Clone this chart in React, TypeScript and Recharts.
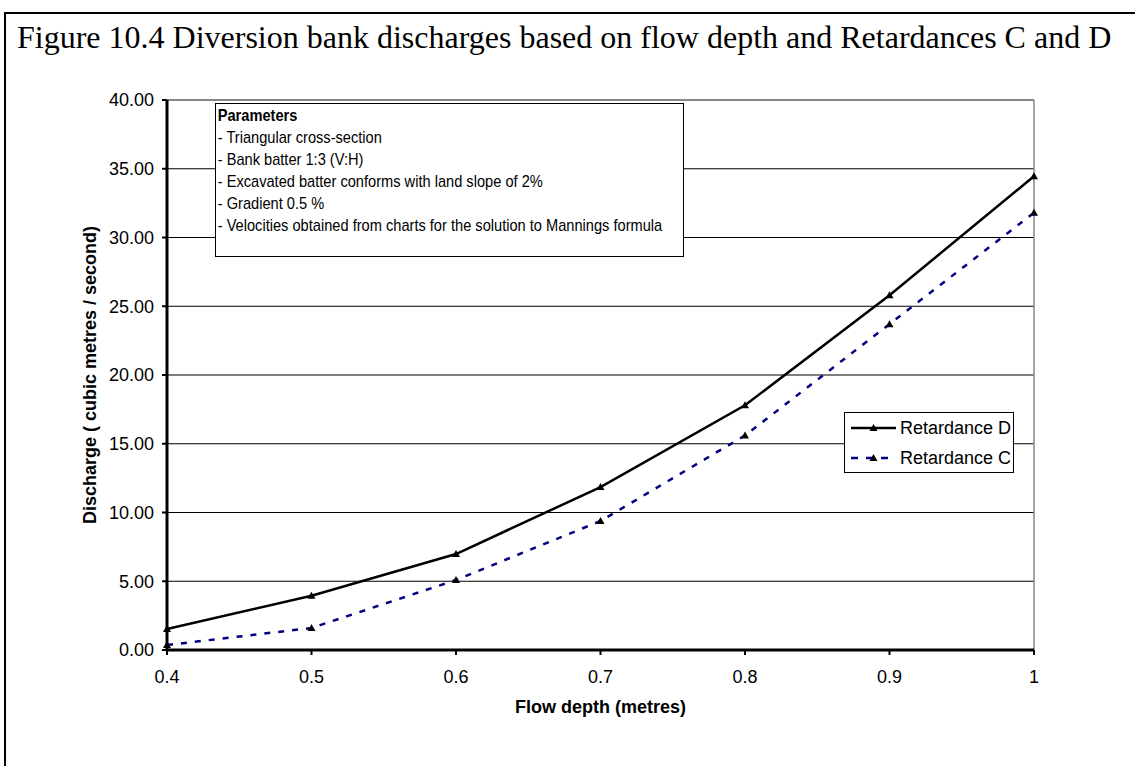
import React from 'react'
import { LineChart, Line, XAxis, YAxis, CartesianGrid, ReferenceLine } from 'recharts'

const flowDepth = [0.4, 0.5, 0.6, 0.7, 0.8, 0.9, 1]
const retardanceD = [1.53, 3.95, 6.98, 11.85, 17.8, 25.8, 34.45]
const retardanceC = [0.36, 1.6, 5.09, 9.38, 15.6, 23.7, 31.8]
const yTicks = [0, 5, 10, 15, 20, 25, 30, 35, 40]
const seriesNames = ['Retardance D', 'Retardance C']
const parameters = [
  '- Triangular cross-section',
  '- Bank batter 1:3 (V:H)',
  '- Excavated batter conforms with land slope of 2%',
  '- Gradient 0.5 %',
  '- Velocities obtained from charts for the solution to Mannings formula',
]

const data = flowDepth.map((d, i) => ({ depth: d, D: retardanceD[i], C: retardanceC[i] }))

const sans = "'Liberation Sans', Arial, sans-serif"

// small filled triangle used for the markers
const Triangle = (props: any) => {
  const { cx, cy } = props
  if (cx == null || cy == null) return null
  return <path d={`M${cx},${cy - 4} L${cx + 4},${cy + 3} L${cx - 4},${cy + 3} Z`} fill="#000" />
}

const LegendRow = ({ color, dash, label }: { color: string; dash?: string; label: string }) => (
  <div style={{ display: 'flex', alignItems: 'center', height: 30 }}>
    <svg width={48} height={12}>
      <line x1={1} y1={6} x2={46} y2={6} stroke={color} strokeWidth={2.5} strokeDasharray={dash} />
      <path d="M23.5,2 L27.5,9 L19.5,9 Z" fill="#000" />
    </svg>
    <span style={{ marginLeft: 2 }}>{label}</span>
  </div>
)

export default function App() {
  return (
    <div style={{ position: 'absolute', left: 0, top: 0, width: 1135, height: 766, background: '#fff', overflow: 'hidden' }}>
      {/* outer frame, open at the right and bottom edge */}
      <div
        style={{
          position: 'absolute',
          left: 4,
          top: 12,
          width: 1140,
          height: 770,
          borderLeft: '2px solid #000',
          borderTop: '2px solid #000',
        }}
      />
      <div
        style={{
          position: 'absolute',
          left: 17,
          top: 19,
          fontFamily: "'Liberation Serif', 'Times New Roman', serif",
          fontSize: 32,
          lineHeight: '36px',
          whiteSpace: 'nowrap',
        }}
      >
        Figure 10.4 Diversion bank discharges based on flow depth and Retardances C and D
      </div>

      <div style={{ position: 'absolute', left: 0, top: 0 }}>
        <LineChart width={1135} height={766} data={data} margin={{ top: 100, right: 101, left: 107, bottom: 86 }}>
          <CartesianGrid vertical={false} stroke="#000" strokeWidth={1} />
          <ReferenceLine y={40} stroke="#888" strokeWidth={1.5} />
          <ReferenceLine x={1} stroke="#888" strokeWidth={1.5} />
          <XAxis
            dataKey="depth"
            type="number"
            domain={[0.4, 1]}
            ticks={flowDepth}
            tick={{ fontSize: 18, fill: '#000', fontFamily: sans }}
            tickSize={5}
            tickMargin={15}
            tickLine={{ stroke: '#000', strokeWidth: 2 }}
            axisLine={{ stroke: '#000', strokeWidth: 3 }}
            height={30}
            label={{ value: 'Flow depth (metres)', position: 'insideBottom', offset: -33, fontSize: 18, fontWeight: 'bold', fill: '#000', fontFamily: sans }}
          />
          <YAxis
            type="number"
            domain={[0, 40]}
            ticks={yTicks}
            tickFormatter={(v: number) => v.toFixed(2)}
            tick={{ fontSize: 18, fill: '#000', fontFamily: sans }}
            tickSize={5}
            tickMargin={8}
            tickLine={{ stroke: '#000', strokeWidth: 2 }}
            axisLine={{ stroke: '#000', strokeWidth: 3 }}
            width={60}
            label={{
              value: 'Discharge ( cubic metres / second)',
              angle: -90,
              position: 'insideLeft',
              offset: -17,
              style: { textAnchor: 'middle' },
              fontSize: 18,
              fontWeight: 'bold',
              fill: '#000',
              fontFamily: sans,
            }}
          />
          <Line
            dataKey="D"
            name={seriesNames[0]}
            stroke="#000"
            strokeWidth={2.5}
            dot={<Triangle />}
            activeDot={false}
            isAnimationActive={false}
          />
          <Line
            dataKey="C"
            name={seriesNames[1]}
            stroke="#000080"
            strokeWidth={2.5}
            strokeDasharray="6 8"
            dot={<Triangle />}
            activeDot={false}
            isAnimationActive={false}
          />
        </LineChart>
      </div>

      {/* legend */}
      <div
        style={{
          position: 'absolute',
          left: 844,
          top: 412,
          width: 170,
          height: 61,
          border: '1px solid #000',
          background: '#fff',
          fontFamily: sans,
          fontSize: 18,
          boxSizing: 'border-box',
          padding: '0 0 0 5px',
        }}
      >
        <LegendRow color="#000" label={seriesNames[0]} />
        <LegendRow color="#000080" dash="7 8" label={seriesNames[1]} />
      </div>

      {/* parameters note */}
      <div
        style={{
          position: 'absolute',
          left: 215,
          top: 103,
          width: 469,
          height: 154,
          border: '1.5px solid #000',
          background: '#fff',
          boxSizing: 'border-box',
          color: '#000',
        }}
      >
        <div
          style={{
            fontFamily: sans,
            fontSize: 17,
            lineHeight: '22px',
            padding: '1px 0 0 2px',
            transform: 'scaleX(0.86)',
            transformOrigin: 'left top',
          }}
        >
          <div style={{ fontWeight: 'bold' }}>Parameters</div>
          {parameters.map((p) => (
            <div key={p} style={{ whiteSpace: 'nowrap' }}>{p}</div>
          ))}
        </div>
      </div>
    </div>
  )
}
